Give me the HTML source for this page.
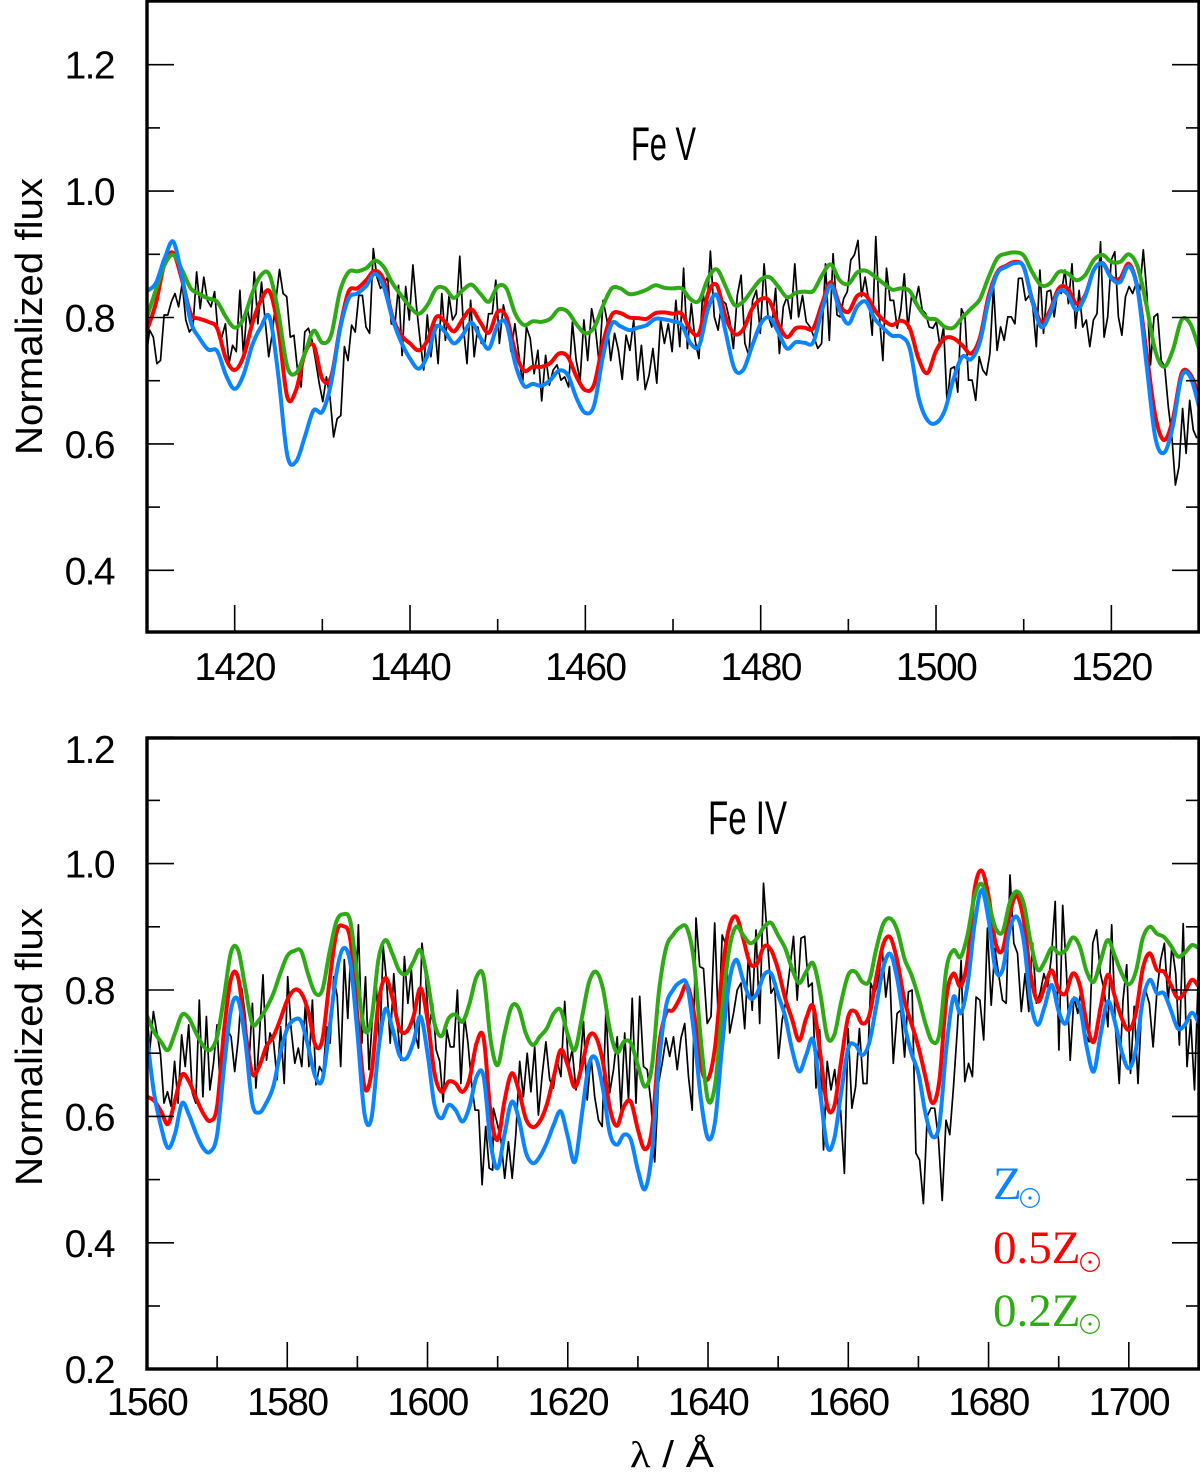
<!DOCTYPE html>
<html lang="en">
<head>
<meta charset="utf-8">
<title>Fe V and Fe IV normalized flux spectra</title>
<style>
html,body{margin:0;padding:0;background:#fff;}
svg{display:block;}
text{font-family:"Liberation Sans",sans-serif;fill:#000;}
.legend{font-family:"Liberation Serif",serif;font-size:47px;}
</style>
</head>
<body>
<svg id="chart" xmlns="http://www.w3.org/2000/svg" width="1200" height="1482" viewBox="0 0 1200 1482">
  <rect x="0" y="0" width="1200" height="1482" fill="#fff"/>
  <defs>
    <clipPath id="clip-top"><rect x="147" y="2" width="1052" height="630"/></clipPath>
    <clipPath id="clip-bottom"><rect x="147" y="738" width="1052" height="631"/></clipPath>
  </defs>
  <g id="panel-top"></g>
  <g id="panel-bottom"></g>

  <text x="631" y="160" font-size="47" textLength="65" lengthAdjust="spacingAndGlyphs">Fe V</text>
  <text x="708" y="834" font-size="47" textLength="79" lengthAdjust="spacingAndGlyphs">Fe IV</text>

  <text transform="translate(42,455) rotate(-90)" font-size="38" textLength="277" lengthAdjust="spacingAndGlyphs">Normalized flux</text>
  <text transform="translate(42,1186) rotate(-90)" font-size="38" textLength="278" lengthAdjust="spacingAndGlyphs">Normalized flux</text>

  <text x="630" y="1467" font-size="37" textLength="84" lengthAdjust="spacingAndGlyphs"><tspan font-family="Liberation Serif, serif">λ</tspan> / Å</text>

  <g>
    <g fill="#0a84ff">
      <text class="legend" x="993" y="1199" style="fill:#0a84ff">Z</text>
      <circle cx="1030" cy="1198" r="9.3" fill="none" stroke="#0a84ff" stroke-width="1.3"/>
      <circle cx="1030" cy="1198" r="1.6"/>
    </g>
    <g fill="#ff0000">
      <text class="legend" x="993" y="1263" style="fill:#ff0000">0.5Z</text>
      <circle cx="1090" cy="1262" r="9.3" fill="none" stroke="#ff0000" stroke-width="1.3"/>
      <circle cx="1090" cy="1262" r="1.6"/>
    </g>
    <g fill="#2eaa14">
      <text class="legend" x="993" y="1326" style="fill:#2eaa14">0.2Z</text>
      <circle cx="1090" cy="1324" r="9.3" fill="none" stroke="#2eaa14" stroke-width="1.3"/>
      <circle cx="1090" cy="1324" r="1.6"/>
    </g>
  </g>
</svg>
<script>
// ---- Fe V panel data (models on a 1 Angstrom grid starting at 1410) ----
const feVStart = 1410;
const feVBlue = [.842,.854,.893,.920,.864,.793,.767,.749,.747,.709,.687,.709,.756,.785,.800,.706,.582,.572,.611,.653,.651,.696,.780,.830,.838,.850,.869,.849,.798,.761,.735,.719,.740,.785,.777,.759,.772,.792,.769,.751,.788,
.790,.727,.692,.695,.692,.701,.716,.709,.672,.649,.661,.738,.790,.786,.780,.784,.788,.798,.797,.794,.788,.759,.756,.814,.835,.777,.719,.717,.754,.790,.800,.777,.751,.761,.760,.761,.812,.851,.812,.790,
.817,.825,.798,.783,.771,.770,.751,.674,.638,.633,.653,.703,.738,.734,.761,.827,.870,.880,.886,.880,.825,.785,.806,.841,.837,.812,.833,.875,.885,.862,.856,.881,.843,.727,.611,.586,.627,.706,.706,.659];
const feVRed = [.780,.822,.885,.902,.859,.806,.798,.793,.783,.735,.717,.738,.790,.827,.841,.780,.674,.685,.743,.756,.703,.706,.783,.841,.846,.859,.874,.859,.801,.772,.759,.748,.764,.801,.793,.778,.797,.813,.793,.776,.809,
.801,.746,.716,.722,.722,.728,.743,.738,.706,.685,.694,.759,.804,.807,.800,.799,.798,.807,.808,.806,.806,.780,.776,.838,.851,.801,.774,.781,.813,.829,.826,.790,.769,.783,.784,.783,.822,.856,.820,.809,
.834,.835,.812,.796,.788,.795,.783,.735,.712,.747,.767,.767,.756,.743,.768,.834,.872,.882,.888,.880,.827,.793,.811,.846,.846,.822,.835,.875,.886,.864,.862,.885,.846,.746,.645,.606,.638,.711,.710,.677];
const feVGreen = [.801,.843,.883,.899,.875,.846,.837,.830,.825,.801,.784,.798,.838,.867,.867,.806,.722,.712,.743,.779,.760,.772,.841,.872,.873,.878,.890,.880,.854,.835,.817,.806,.820,.846,.846,.831,.843,.852,.838,.825,.849,
.846,.806,.788,.794,.793,.798,.813,.809,.789,.775,.784,.818,.846,.846,.837,.839,.844,.851,.847,.846,.846,.829,.827,.862,.876,.849,.820,.825,.843,.860,.864,.849,.832,.839,.841,.842,.867,.884,.859,.853,
.871,.874,.865,.854,.844,.846,.842,.816,.799,.797,.785,.784,.800,.814,.829,.864,.894,.901,.903,.898,.871,.851,.854,.872,.870,.859,.867,.891,.899,.888,.888,.900,.880,.820,.748,.722,.748,.796,.790,.751];
// observed spectrum, three stretches
const feVObsA = [.738,.780,.769,.727,.732,.804,.804,.825,.838,.817,.854,.796,.777,.785,.872,.814,.864,.827,.817,.841,.772,.769,.790,.727,.756,.746,.843,.738,.817,.785,.872,.790,.856,.796,.738,.775,.827,.876,.838,.833,.769,.772,.717,.690,.777,.783,.764,.732,.696,.667,.706,.674,.611,.640,.645,.754,.732,.788,.777,.835,.835,.785,.775,.909,.864,.846,.854,.864,.790,.788,.851,.740,.849,.796,.883,.817,.764,.717,.804,.738,.790,.727,.838,.764,.834,.796,.806,.897,.785,.727,.827,.738,.785,.759,.761,.806,.806,.859,.759];
const feVObsB = [.820,.790,.746,.790,.743,.696,.785,.767,.711,.748,.668,.740,.693,.717,.725,.701,.706,.690,.793,.732,.701,.796,.732,.814,.783,.727,.827,.796,.732,.775,.748,.702,.772,.748,.796,.701,.756,.686,.709,.751,.696,.796,.759,.790,.746,.827,.754,.878,.751,.822,.764,.735,.841,.801,.905,.801,.780,.827,.822,.796,.751,.835,.867,.759,.740,.827,.843,.775,.885,.804,.785,.846,.743,.817,.833,.798,.885,.801,.835,.793,.785,.769,.751,.759,.885,.764,.901,.804];
const feVObsC = [.801,.830,.841,.891,.899,.922,.833,.864,.827,.772,.928,.801,.732,.878,.827,.827,.783,.812,.869,.783,.833,.822,.849,.812,.806,.785,.783,.793,.754,.785,.664,.719,.722,.682,.814,.801,.701,.701,.669,.738,.717,.709,.743,.849,.748,.785,.764,.801,.801,.790,.862,.862,.827,.835,.817,.754,.875,.775,.841,.843,.801,.843,.838,.875,.822,.885,.783,.843,.785,.796,.754,.796,.806,.920,.769,.801,.891,.904,.801,.772,.833,.849,.838,.854,.843,.907,.838,.725,.801,.806,.732,.722,.659,.611,.535,.564,.656,.585,.669,.622,.609];
const feVObsSpans = [[1409.9,1450.2],[1450.65,1488.7],[1489.06,1529.75]];
const feVXMajor = [1420,1440,1460,1480,1500,1520];
const feVXMinor = [1410,1430,1450,1470,1490,1510,1530];
const feVYMajor = ["0.4","0.6","0.8","1.0","1.2"];
const feVYMinor = [0.5,0.7,0.9,1.1];

// ---- Fe IV panel data (models on a 1 Angstrom grid starting at 1560) ----
const feIVStart = 1560;
const feIVBlue = [.726,.637,.584,.550,.573,.621,.602,.573,.550,.544,.571,.679,.771,.784,.721,.621,.606,.621,.647,.700,.739,.753,.750,.710,.663,.658,.737,.826,.866,.842,.732,.605,.597,.705,.770,.739,.697,.692,.718,.758,.700,.618,.597,.618,.610,.592,.616,.663,.663,.558,.518,
.573,.623,.597,.544,.526,.536,.558,.587,.608,.568,.528,.602,.681,.692,.645,.573,.555,.571,.563,.515,.485,.542,.684,.774,.800,.812,.808,.732,.626,.565,.592,.710,.811,.848,.816,.787,.795,.824,.826,.792,.758,.705,.671,.697,.721,.637,.552,.565,.639,.708,
.713,.697,.717,.776,.836,.857,.816,.747,.700,.668,.605,.568,.589,.710,.789,.763,.808,.903,.958,.911,.832,.832,.895,.916,.879,.782,.745,.774,.808,.766,.747,.784,.774,.710,.671,.731,.782,.750,.702,.676,.705,.784,.816,.795,.795,.768,.739,.745,.764,.747];
const feIVRed = [.631,.625,.608,.588,.626,.666,.655,.629,.605,.593,.616,.737,.819,.819,.737,.668,.679,.710,.726,.753,.784,.800,.795,.766,.713,.721,.811,.890,.901,.879,.758,.647,.668,.779,.819,.787,.739,.734,.758,.803,.753,.668,.639,.655,.652,.639,.660,.716,.724,.605,.563,
.626,.668,.642,.597,.583,.592,.618,.663,.705,.681,.646,.679,.726,.726,.687,.613,.585,.616,.623,.579,.548,.579,.710,.763,.768,.787,.808,.763,.679,.659,.710,.826,.898,.916,.882,.842,.842,.869,.863,.832,.787,.753,.720,.755,.774,.700,.616,.616,.689,.758,
.766,.747,.760,.821,.873,.883,.845,.784,.747,.710,.663,.621,.658,.789,.826,.806,.847,.958,.989,.948,.874,.863,.919,.950,.911,.824,.782,.805,.831,.800,.795,.826,.808,.747,.718,.774,.824,.790,.755,.737,.763,.834,.858,.832,.829,.808,.787,.797,.816,.805];
const feIVGreen = [.759,.734,.718,.705,.732,.761,.755,.732,.712,.705,.726,.790,.861,.863,.805,.747,.753,.771,.794,.826,.854,.862,.861,.824,.795,.800,.858,.908,.920,.908,.819,.738,.753,.848,.879,.857,.830,.826,.845,.863,.816,.747,.727,.755,.761,.750,.779,.821,.821,.721,.681,
.732,.774,.771,.732,.713,.726,.739,.763,.768,.729,.705,.755,.811,.829,.803,.737,.701,.718,.716,.681,.647,.679,.797,.866,.887,.899,.898,.845,.718,.626,.650,.766,.863,.900,.887,.874,.882,.900,.906,.886,.866,.833,.811,.829,.842,.795,.726,.729,.782,.824,
.829,.813,.815,.866,.905,.913,.894,.850,.824,.789,.747,.718,.731,.834,.863,.852,.887,.948,.968,.937,.898,.892,.937,.956,.937,.876,.832,.845,.867,.858,.863,.883,.869,.829,.813,.847,.879,.854,.826,.809,.829,.882,.900,.889,.884,.870,.853,.859,.871,.866];
// observed spectrum, three stretches
const feIVObsA = [.779,.705,.766,.732,.700,.621,.639,.616,.687,.621,.729,.679,.745,.637,.621,.784,.631,.758,.642,.684,.745,.634,.697,.737,.726,.671,.721,.803,.758,.679,.779,.645,.726,.824,.689,.732,.718,.658,.742,.652,.821,.737,.684,.708,.679,.779,.679,.784,.650,.679,.668,.742,.716,.821,.790,.679,.848,.755,.882,.755,.903,.716,.821,.674,.758,.813,.705,.869,.811,.716,.826,.747,.689,.853,.779,.832,.732,.708,.874,.821,.737,.779,.705,.687,.623,.737,.710,.710,.800,.652,.758,.716,.652,.610,.610,.492,.584,.518,.515];
const feIVObsB = [.613,.589,.563,.502,.560,.502,.573,.687,.631,.700,.639,.710,.602,.666,.718,.658,.645,.687,.663,.782,.679,.705,.642,.674,.750,.626,.695,.631,.594,.584,.774,.637,.674,.726,.610,.732,.626,.787,.621,.790,.679,.674,.621,.528,.652,.684,.724,.695,.726,.674,.724,.747,.663,.610,.914,.837,.834,.747,.758,.906,.742,.887,.871,.732,.763,.800,.811,.739,.858,.768,.895,.747,.969,.885,.795,.805,.692,.753,.784,.832,.885,.784,.882,.885,.805,.811,.645,.737,.547,.687,.642,.674,.610];
const feIVObsC = [.610,.510,.739,.613,.647,.739,.652,.652,.811,.795,.811,.869,.789,.837,.684,.763,.768,.694,.797,.800,.542,.531,.462,.600,.613,.613,.563,.467,.594,.571,.647,.737,.847,.655,.684,.663,.789,.784,.721,.898,.776,.866,.824,.784,.779,.982,.874,.858,.766,.826,.766,.874,.779,.795,.826,.805,.853,.940,.705,.934,.826,.689,.789,.763,.805,.731,.718,.874,.895,.826,.800,.742,.903,.742,.652,.784,.840,.668,.774,.652,.779,.800,.779,.710,.795,.847,.874,.779,.871,.826,.713,.905,.679,.753,.642,.821];
const feIVObsSpans = [[1559.9,1609.3],[1609.4,1658.6],[1658.9,1709.9]];
const feIVXMajor = [1560,1580,1600,1620,1640,1660,1680,1700];
const feIVXMinor = [1570,1590,1610,1630,1650,1670,1690,1710];
const feIVYMajor = ["0.2","0.4","0.6","0.8","1.0","1.2"];
const feIVYMinor = [0.3,0.5,0.7,0.9,1.1];

const NS = "http://www.w3.org/2000/svg";
const PLOT_LEFT = 147, PLOT_RIGHT = 1199;
const COLORS = {blue:"#0a84ff", red:"#ff0000", green:"#2eaa14"};

function feVX(w){ return 147 + (w - 1410) * 8.767; }
function feVY(f){ return 317.5 - (f - 0.8) * 632; }
function feIVX(w){ return 147 + (w - 1560) * 7.013; }
function feIVY(f){ return 990 - (f - 0.8) * 632; }

function smoothPath(pts){
  let d = "M" + pts[0][0].toFixed(1) + " " + pts[0][1].toFixed(1);
  for (let i = 0; i < pts.length - 1; i++){
    const p0 = pts[Math.max(i - 1, 0)], p1 = pts[i], p2 = pts[i + 1], p3 = pts[Math.min(i + 2, pts.length - 1)];
    const c1x = p1[0] + (p2[0] - p0[0]) / 6, c1y = p1[1] + (p2[1] - p0[1]) / 6;
    const c2x = p2[0] - (p3[0] - p1[0]) / 6, c2y = p2[1] - (p3[1] - p1[1]) / 6;
    d += "C" + c1x.toFixed(1) + " " + c1y.toFixed(1) + " " + c2x.toFixed(1) + " " + c2y.toFixed(1) + " " + p2[0].toFixed(1) + " " + p2[1].toFixed(1);
  }
  return d;
}

function addModel(parent, values, start, xf, yf, color, name){
  const pts = values.map(function(v, i){ return [xf(start + i), yf(v)]; });
  const p = document.createElementNS(NS, "path");
  p.setAttribute("d", smoothPath(pts));
  p.setAttribute("fill", "none");
  p.setAttribute("stroke", color);
  p.setAttribute("stroke-width", "4");
  p.setAttribute("stroke-linejoin", "round");
  
  
  parent.appendChild(p);
}

function addObserved(parent, stretches, spans, xf, yf, name){
  let pts = [];
  stretches.forEach(function(vals, s){
    const a = spans[s][0], b = spans[s][1];
    vals.forEach(function(v, i){
      pts.push(xf(a + i * (b - a) / (vals.length - 1)).toFixed(1) + "," + yf(v).toFixed(1));
    });
  });
  const p = document.createElementNS(NS, "polyline");
  p.setAttribute("points", pts.join(" "));
  p.setAttribute("fill", "none");
  p.setAttribute("stroke", "#000");
  p.setAttribute("stroke-width", "1.7");
  p.setAttribute("stroke-linejoin", "round");
  
  
  parent.appendChild(p);
}

function addTick(parent, x1, y1, x2, y2, width, name){
  const l = document.createElementNS(NS, "line");
  l.setAttribute("x1", x1);
  l.setAttribute("y1", y1);
  l.setAttribute("x2", x2);
  l.setAttribute("y2", y2);
  l.setAttribute("stroke", "#000");
  l.setAttribute("stroke-width", width);
  
  
  parent.appendChild(l);
}

function addLabel(parent, x, y, str, anchor, name){
  const t = document.createElementNS(NS, "text");
  t.setAttribute("x", x);
  t.setAttribute("y", y);
  t.setAttribute("font-size", "39");
  t.setAttribute("letter-spacing", "-1.6");
  t.setAttribute("text-anchor", anchor);
  t.textContent = str;
  
  
  parent.appendChild(t);
}

function drawPanel(o){
  const g = document.getElementById(o.id);
  const marks = document.createElementNS(NS, "g");
  marks.setAttribute("clip-path", "url(#" + o.clip + ")");
  
  
  g.appendChild(marks);
  addObserved(marks, o.obs, o.spans, o.xf, o.yf, 'observed-spectrum');
  addModel(marks, o.red, o.start, o.xf, o.yf, COLORS.red, 'model-half-solar');
  addModel(marks, o.green, o.start, o.xf, o.yf, COLORS.green, 'model-fifth-solar');
  addModel(marks, o.blue, o.start, o.xf, o.yf, COLORS.blue, 'model-solar');

  o.xMajor.forEach(function(w){
    addTick(g, o.xf(w), o.bottom, o.xf(w), o.bottom - 27, 1.6, 'x-tick-major');
    addLabel(g, o.xf(w), o.xLabelY, String(w), "middle", 'x-tick-label');
  });
  o.xMinor.forEach(function(w){
    addTick(g, o.xf(w), o.bottom, o.xf(w), o.bottom - 13, 1.6, 'x-tick-minor');
  });
  o.yMajor.forEach(function(s){
    const f = parseFloat(s), y = o.yf(f);
    addTick(g, PLOT_LEFT, y, PLOT_LEFT + 27, y, 1.6, 'y-tick-major');
    addTick(g, PLOT_RIGHT, y, PLOT_RIGHT - 27, y, 1.6, 'y-tick-major-right');
    const ly = (o.top === 738 && s === "1.2") ? y + 26 : y + 14;
    addLabel(g, 114, ly, s, "end", 'y-tick-label');
  });
  o.yMinor.forEach(function(f){
    const y = o.yf(f);
    addTick(g, PLOT_LEFT, y, PLOT_LEFT + 13, y, 1.6, 'y-tick-minor');
    addTick(g, PLOT_RIGHT, y, PLOT_RIGHT - 13, y, 1.6, 'y-tick-minor-right');
  });

  const r = document.createElementNS(NS, "rect");
  r.setAttribute("x", PLOT_LEFT);
  r.setAttribute("y", o.top);
  r.setAttribute("width", PLOT_RIGHT - PLOT_LEFT);
  r.setAttribute("height", o.bottom - o.top);
  r.setAttribute("fill", "none");
  r.setAttribute("stroke", "#000");
  r.setAttribute("stroke-width", "3.4");
  
  
  g.appendChild(r);
}

drawPanel({id:"panel-top", clip:"clip-top", top:1, bottom:632, xf:feVX, yf:feVY, start:feVStart,
  blue:feVBlue, red:feVRed, green:feVGreen, obs:[feVObsA,feVObsB,feVObsC], spans:feVObsSpans,
  xMajor:feVXMajor, xMinor:feVXMinor, yMajor:feVYMajor, yMinor:feVYMinor, xLabelY:680});
drawPanel({id:"panel-bottom", clip:"clip-bottom", top:738, bottom:1369, xf:feIVX, yf:feIVY, start:feIVStart,
  blue:feIVBlue, red:feIVRed, green:feIVGreen, obs:[feIVObsA,feIVObsB,feIVObsC], spans:feIVObsSpans,
  xMajor:feIVXMajor, xMinor:feIVXMinor, yMajor:feIVYMajor, yMinor:feIVYMinor, xLabelY:1415});
</script>
</body>
</html>
